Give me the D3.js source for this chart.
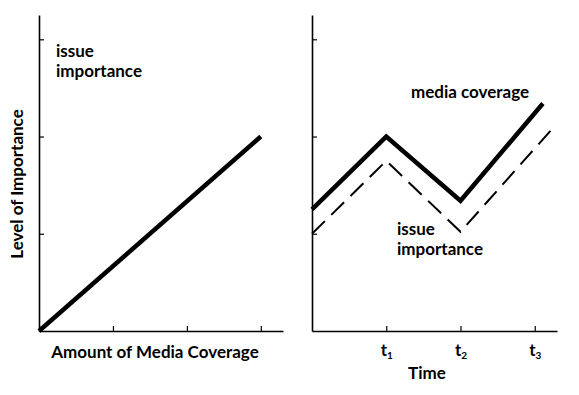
<!DOCTYPE html>
<html>
<head>
<meta charset="utf-8">
<script src="https://cdn.jsdelivr.net/npm/d3@7"></script>
<style>
body { margin: 0; background: #fff; }
text { font-family: Lato, "Open Sans", sans-serif; font-weight: bold; fill: #000; }
</style>
</head>
<body>
<svg id="chart" width="579" height="395"></svg>
<script>
// left panel: importance rises with coverage
var coverageX = [0, 3];
var importanceY = [0, 2];

// right panel: over time
var timeX = [0, 1, 2, 3.11];
var mediaY = [1.25, 2.0, 1.34, 2.34];
var timeX2 = [0, 1, 2, 3.26];
var issueY = [1.0, 1.75, 1.02, 2.1];

var xTicks = [1, 2, 3];
var yTicks = [1, 2, 3];
var timeLabels = ["1", "2", "3"];

var fs = '17px';

var svg = d3.select('#chart');

var y = d3.scaleLinear().domain([0, 3.25]).range([331, 15]);
var xL = d3.scaleLinear().domain([0, 3.3]).range([39, 283]);
var xR = d3.scaleLinear().domain([0, 3.3]).range([312, 557]);

var drawAxes = function(x){
	var yAxis = d3.axisLeft(y).tickValues(yTicks).tickSizeInner(-5).tickSizeOuter(0).tickFormat("");
	var xAxis = d3.axisBottom(x).tickValues(xTicks).tickSizeInner(-5).tickSizeOuter(0).tickFormat("");

	var gy = svg.append('g')
		.attr('transform', 'translate(' + x(0) + ',0)')
		.call(yAxis);
	var gx = svg.append('g')
		.attr('transform', 'translate(0,' + y(0) + ')')
		.call(xAxis);

	[gy, gx].forEach(function(g){
		g.select('.domain').attr('stroke', '#000').attr('stroke-width', 1.6);
		g.selectAll('.tick line').attr('stroke', '#000').attr('stroke-width', 1.2);
	});
	return gx;
}

var line = function(x){
	return d3.line()
		.x(function(d) { return x(d[0]); })
		.y(function(d) { return y(d[1]); });
}

// left panel
drawAxes(xL);

svg.append('path')
	.datum(d3.zip(coverageX, importanceY))
	.attr('d', line(xL))
	.attr('fill', 'none')
	.attr('stroke', '#000')
	.attr('stroke-width', 4.5);

svg.append('text').attr('x', 56).attr('y', 57).style('font-size', fs).text('issue');
svg.append('text').attr('x', 56).attr('y', 77).style('font-size', fs).text('importance');

svg.append('text')
	.attr('transform', 'translate(23,184) rotate(-90)')
	.attr('text-anchor', 'middle')
	.style('font-size', fs)
	.text('Level of Importance');

svg.append('text')
	.attr('x', 155).attr('y', 358)
	.attr('text-anchor', 'middle')
	.style('font-size', fs)
	.text('Amount of Media Coverage');

// right panel
var gx = drawAxes(xR);

gx.selectAll('.tick').each(function(d, i){
	var t = d3.select(this).append('text')
		.attr('y', 25)
		.attr('text-anchor', 'middle')
		.style('font-size', fs);
	t.append('tspan').text('t');
	t.append('tspan').attr('dy', 3).style('font-size', '10px').text(timeLabels[i]);
});

svg.append('path')
	.datum(d3.zip(timeX, mediaY))
	.attr('d', line(xR))
	.attr('fill', 'none')
	.attr('stroke', '#000')
	.attr('stroke-width', 4.5);

svg.append('path')
	.datum(d3.zip(timeX2, issueY))
	.attr('d', line(xR))
	.attr('fill', 'none')
	.attr('stroke', '#000')
	.attr('stroke-width', 2)
	.attr('stroke-dasharray', '18,9');

svg.append('text').attr('x', 411).attr('y', 98).style('font-size', fs).text('media coverage');
svg.append('text').attr('x', 397).attr('y', 235).style('font-size', fs).text('issue');
svg.append('text').attr('x', 397).attr('y', 255).style('font-size', fs).text('importance');

svg.append('text')
	.attr('x', 427).attr('y', 379)
	.attr('text-anchor', 'middle')
	.style('font-size', fs)
	.text('Time');
</script>
</body>
</html>
